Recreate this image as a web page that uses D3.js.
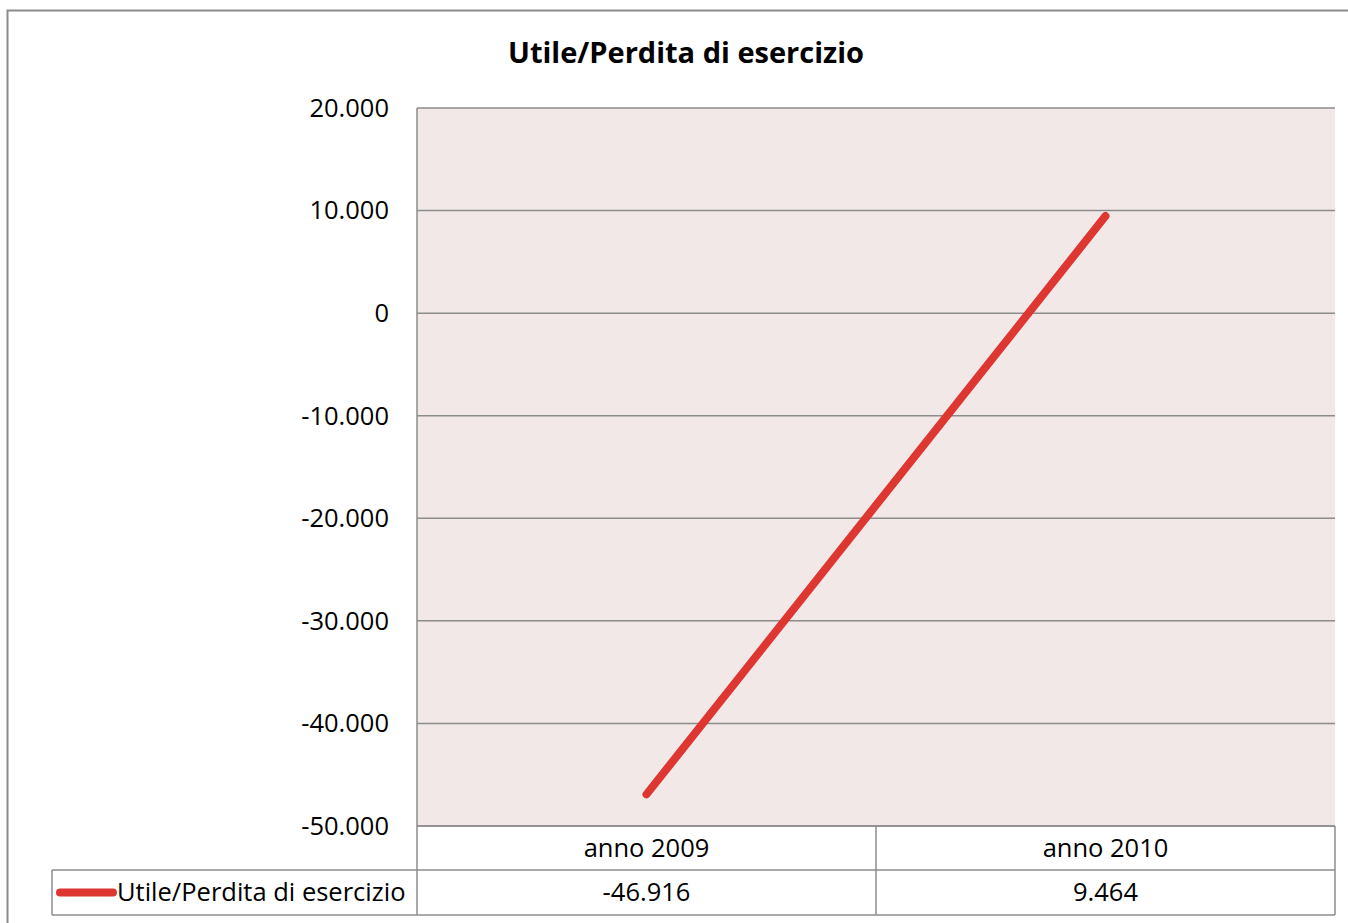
<!DOCTYPE html>
<html><head><meta charset="utf-8">
<script src="https://cdn.jsdelivr.net/npm/d3@7/dist/d3.min.js"></script>
<style>body{margin:0;background:#fff}svg{display:block}</style>
</head><body><svg id="c" width="1348" height="923"></svg>
<script>
const categories = ["anno 2009", "anno 2010"];
const seriesName = "Utile/Perdita di esercizio";
const values = [-46916, 9464];
const valueLabels = ["-46.916", "9.464"];
const yTicks = [20000, 10000, 0, -10000, -20000, -30000, -40000, -50000];
const title = "Utile/Perdita di esercizio";

const svg = d3.select("#c");
const font = "'Open Sans', sans-serif";
const fs = 25.5;
const gray = "#8c8c8c";
const red = "#de3631";
const L = 417, R = 1335, T = 108, B = 826;

svg.append("rect").attr("x", 7.5).attr("y", 10.5).attr("width", 1400).attr("height", 1000)
  .attr("fill", "#fff").attr("stroke", gray).attr("stroke-width", 2);

const x = d3.scaleBand().domain(categories).range([L, R]).padding(0);
const y = d3.scaleLinear().domain([-50000, 20000]).range([B, T]);

svg.append("rect").attr("x", L).attr("y", T).attr("width", R - L).attr("height", B - T).attr("fill", "#f2e8e8");

svg.append("g").selectAll("line").data(yTicks).join("line")
  .attr("x1", L).attr("x2", R).attr("y1", d => y(d)).attr("y2", d => y(d))
  .attr("stroke", gray).attr("stroke-width", 1.5);
svg.append("line").attr("x1", L).attr("x2", L).attr("y1", T).attr("y2", B).attr("stroke", gray).attr("stroke-width", 1.5);

const fmt = d => d3.format(",")(d).replace(/,/g, ".").replace(/\u2212/g, "-");
svg.append("g").selectAll("text").data(yTicks).join("text")
  .attr("x", 389).attr("y", d => y(d)).attr("dy", "0.35em").attr("text-anchor", "end")
  .attr("font-family", font).attr("font-size", fs).attr("fill", "#000").text(fmt);

svg.append("text").attr("x", 686).attr("y", 63).attr("text-anchor", "middle")
  .attr("font-family", font).attr("font-weight", "bold").attr("font-size", 29).text(title);

const r1 = B, r2 = 870, r3 = 915;
const tbl = svg.append("g").attr("stroke", gray).attr("stroke-width", 1.5);
tbl.append("line").attr("x1", L).attr("x2", R).attr("y1", r1).attr("y2", r1);
tbl.append("line").attr("x1", 52).attr("x2", R).attr("y1", r2).attr("y2", r2);
tbl.append("line").attr("x1", 52).attr("x2", R).attr("y1", r3).attr("y2", r3);
[L, x(categories[1]), R].forEach(xx => tbl.append("line").attr("x1", xx).attr("x2", xx).attr("y1", r1).attr("y2", r3));
tbl.append("line").attr("x1", 52).attr("x2", 52).attr("y1", r2).attr("y2", r3);

svg.append("g").selectAll("text").data(categories).join("text")
  .attr("x", d => x(d) + x.bandwidth() / 2).attr("y", (r1 + r2) / 2).attr("dy", "0.35em")
  .attr("text-anchor", "middle").attr("font-family", font).attr("font-size", fs).text(d => d);
svg.append("g").selectAll("text").data(valueLabels).join("text")
  .attr("x", (d, i) => x(categories[i]) + x.bandwidth() / 2).attr("y", (r2 + r3) / 2).attr("dy", "0.35em")
  .attr("text-anchor", "middle").attr("font-family", font).attr("font-size", fs).text(d => d);

svg.append("line").attr("x1", 60).attr("x2", 113).attr("y1", (r2 + r3) / 2).attr("y2", (r2 + r3) / 2)
  .attr("stroke", red).attr("stroke-width", 8).attr("stroke-linecap", "round");
svg.append("text").attr("x", 117).attr("y", (r2 + r3) / 2).attr("dy", "0.35em")
  .attr("font-family", font).attr("font-size", fs).text(seriesName);

const line = d3.line().x((d, i) => x(categories[i]) + x.bandwidth() / 2).y(d => y(d));
svg.append("path").datum(values).attr("d", line).attr("fill", "none")
  .attr("stroke", red).attr("stroke-width", 8).attr("stroke-linecap", "round");
</script></body></html>
